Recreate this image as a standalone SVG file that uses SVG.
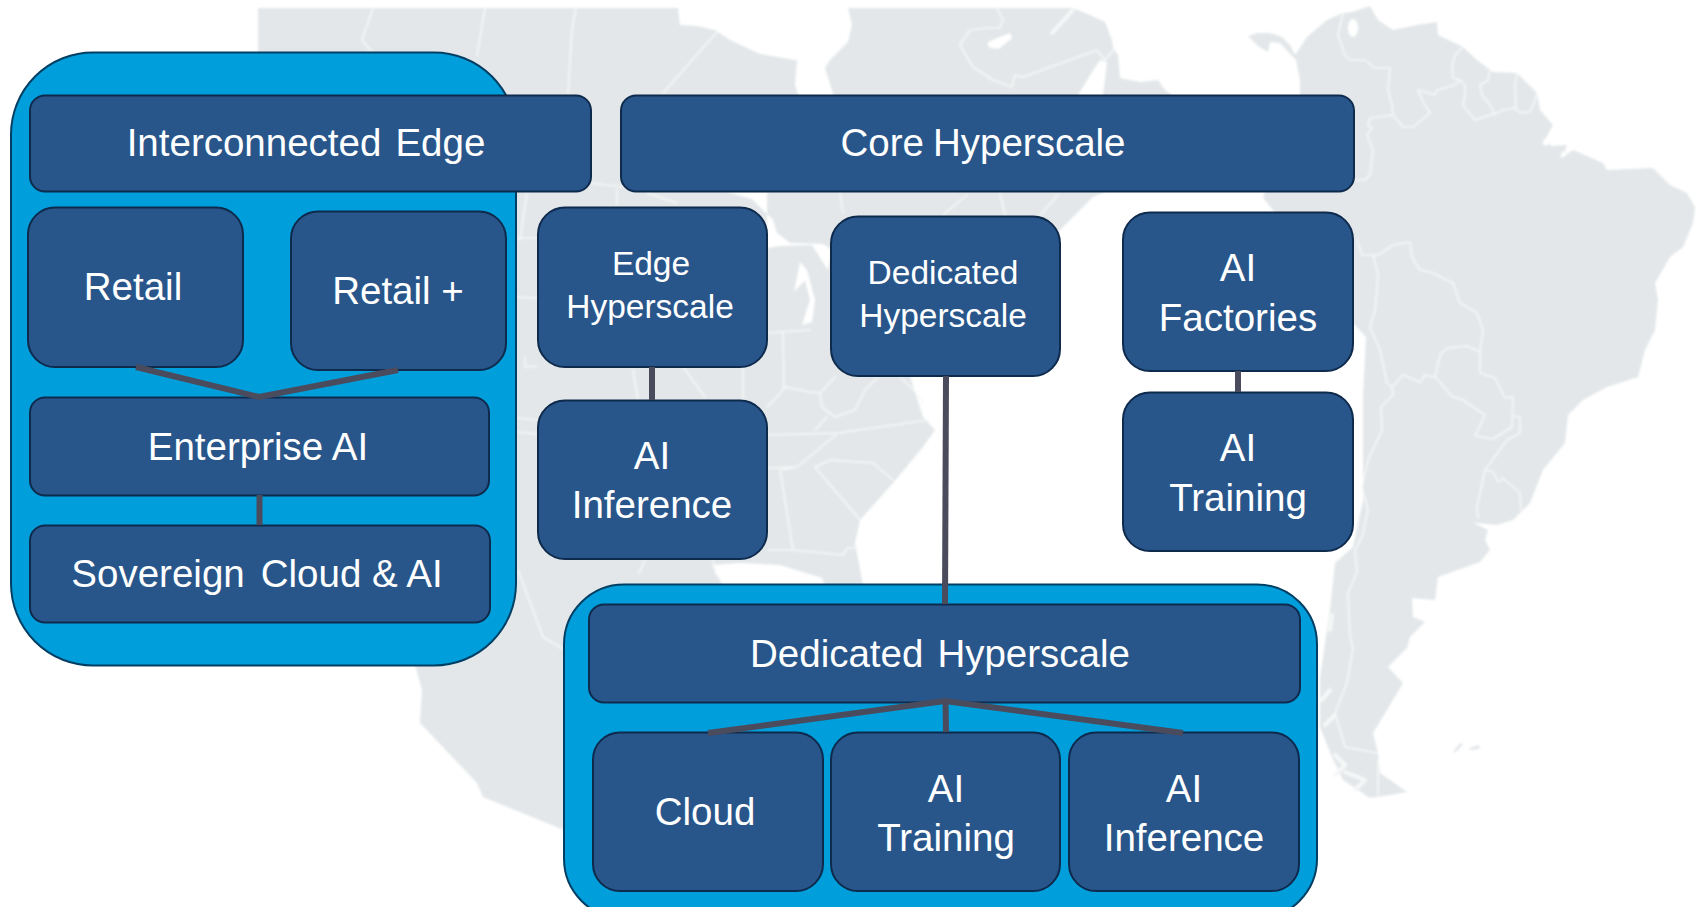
<svg xmlns="http://www.w3.org/2000/svg" width="1707" height="907" viewBox="0 0 1707 907">
<defs><filter id="soft" x="-2%" y="-2%" width="104%" height="104%"><feGaussianBlur stdDeviation="0.8"/></filter></defs>
<style>
.land{fill:#e3e7e9;stroke:none}
.sea{fill:#ffffff;stroke:none}
.border{fill:none;stroke:#f6f8f8;stroke-width:1.6;stroke-linejoin:round;stroke-linecap:round}
.panel{fill:#009edb;stroke:#003f63;stroke-width:2}
.box{fill:#28568b;stroke:#0e2a4c;stroke-width:2}
text{font-family:"Liberation Sans",Arial,sans-serif;font-size:38.5px;fill:#ffffff;text-anchor:middle}
text.s{font-size:33.5px}
.link{fill:none;stroke:#4a4b5c;stroke-width:6;stroke-linejoin:miter}
</style>
<rect width="1707" height="907" fill="#ffffff"/>
<g id="map" filter="url(#soft)">
<path class="land" d="M258 8H678L680 25L697 26L715 30L730 40L760 54L795 60L830 60L848 42L852 25L848 8H1073L1090 15L1105 22L1112 40L1113 48L1118 55L1120 78L1140 82L1158 80L1165 90L1172 95V130H1105L1103 95L1107 62L1100 60L1092 72L1078 95V150L1105 192L1093 197L1075 215L1060 230L1000 300L910 376L923 417L935 430L923 447L893 483L860 520L855 543L863 585V600H830L822 578L780 565L740 563L712 565L722 584L720 640L640 840L564 830L483 797L477 783L420 723L422 690L415 665L300 600L258 100Z"/>
<path class="land" d="M1248 36L1258 33L1270 33L1282 37L1290 45L1295 55L1307 37L1327 20L1343 13L1352 12L1370 6L1378 20L1393 30L1417 25L1437 22L1438 35L1463 47L1477 60L1493 72L1517 73L1537 93L1540 110L1553 125L1545 140L1552 146L1567 145L1563 157L1573 150L1603 163L1607 170L1653 168L1670 185L1687 193L1695 207L1693 223L1683 247L1670 257L1655 283L1658 300L1655 330L1645 350L1638 377L1607 387L1583 400L1568 415L1565 443L1543 470L1530 503L1513 520L1497 525L1477 523L1472 522L1488 530L1485 540L1490 550L1480 562L1438 577L1435 600L1412 598L1413 617L1425 622L1410 637L1407 648L1388 667L1403 683L1387 710L1373 733L1378 753L1380 773L1407 792L1390 795L1370 798L1343 780L1332 757L1320 727L1320 677L1330 610L1335 563L1353 547L1363 500L1363 397L1366 337L1353 323L1273 210L1263 198L1283 120L1300 95L1300 80L1296 60L1280 43L1270 42L1268 52L1258 46Z"/>
<path class="land" d="M1453 752L1460 743L1463 744L1456 752ZM1468 749L1478 745L1481 748L1472 750Z"/>
<path class="sea" d="M797 60L795 85L800 100H835L825 68L830 60ZM727 192L752 199L773 220L777 233L790 243L823 244L832 250L828 270L812 245L780 246L767 248V192ZM800 262L807 270L815 300L812 322L802 325L810 300L805 280L794 292Z"/>
<ellipse class="sea" cx="1353" cy="28" rx="5" ry="9"/>
<path class="sea" d="M1545 138C1540 145 1545 148 1550 143ZM1563 150L1560 158L1566 156Z"/>
<path class="sea" d="M1000 48C988 50 985 44 990 41L1010 33L1012 38Z"/>
<g class="border">
<path d="M373 8L362 40L372 52M485 8L477 55M576 6L572 30L568 93M717 32L663 93M527 193L520 240M590 183L623 187M617 190V205M647 193L677 203M840 193L843 213M516 238H537M517 297L537 298M517 418L537 420M517 432L537 434M525 357V367L537 366M683 367L705 397M633 370L638 400"/>
<path d="M783 333L784 387M768 333L810 330M743 367V400M767 407L777 397L785 387L810 392L820 393L835 377M820 393L822 407L835 417L855 410L865 390L878 377M815 430L827 417M768 435L838 433L928 420M838 433L797 467L768 468M797 467L780 470L793 550L843 555L847 548L857 548M815 467L830 460L873 463L893 480M815 467L860 520M768 550H793M900 377L912 388L923 403"/>
<path d="M967 195L943 215M1000 193L1005 215M1058 195L1040 215M518 570L543 637L565 650M639 573L645 560M713 560L716 575"/>
<path d="M997 8L1003 20L1000 28L987 28L970 30L960 45L973 67L993 80L1012 87L1015 75L1023 77L1097 50L1105 60L1115 48"/>
<path d="M1052 33L1073 10" stroke-width="4"/>
<path d="M1343 13L1338 35L1345 55L1350 60L1365 60L1375 68L1390 68L1388 90L1392 105L1393 115L1370 118L1368 125L1372 128L1367 135L1373 150L1370 175L1365 180L1353 180M1393 115L1403 127L1413 127L1430 113L1425 105L1420 95L1418 90L1435 95L1437 90L1455 85L1460 80"/>
<path d="M1463 47L1455 55L1452 65L1453 78L1460 80L1465 85L1465 95L1463 105L1475 120L1490 115L1497 113L1503 110L1515 108L1520 113L1530 112L1535 100L1537 93M1490 70L1488 80L1480 85L1482 95L1490 105L1495 115M1517 73L1515 85L1516 108"/>
<path d="M1357 240L1362 255L1378 255L1393 245L1410 242L1412 257L1420 270L1433 273L1453 283L1460 303L1477 313L1483 330L1480 352L1480 373L1495 378L1505 398L1513 397L1512 427L1493 439L1475 436L1485 415L1463 400L1453 397L1435 377L1440 355L1447 348L1467 346L1480 352"/>
<path d="M1373 255L1378 273L1377 290L1375 310L1370 327L1380 350L1387 383L1392 387L1403 375L1420 382L1425 375L1435 377M1392 387L1393 395L1381 407L1382 430L1368 460L1362 487L1368 510L1362 537L1355 550L1357 572L1348 593L1350 637L1353 648L1347 683L1335 713L1345 747L1377 753M1378 760V795"/>
<path d="M1513 416L1520 417L1520 433L1507 440L1485 470L1477 507L1478 518M1485 470L1493 472L1498 482L1503 478L1520 493L1521 510"/>
<path d="M1332 615L1330 630M1322 700L1330 690M1325 725L1335 715M1335 755L1345 765L1335 775M1345 772L1365 780L1355 790" stroke-width="4"/>
</g>
</g>
<g id="panel-edge"><rect class="panel" x="11" y="52.500" width="505" height="613" rx="82" ry="82"/></g>
<g id="panel-dedicated"><rect class="panel" x="564" y="584.500" width="753" height="334" rx="60" ry="60"/></g>
<g id="interconnected-edge"><rect class="box" x="30" y="95.500" width="561" height="96" rx="15"/><text x="306" y="156">Interconnected<tspan dx="14">Edge</tspan></text></g>
<g id="core-hyperscale"><rect class="box" x="621" y="95.500" width="733" height="96" rx="15"/><text x="983" y="156">Core<tspan dx="9">Hyperscale</tspan></text></g>
<g id="retail"><rect class="box" x="28" y="207.500" width="215" height="159.500" rx="27"/><text x="133" y="300">Retail</text></g>
<g id="retail-plus"><rect class="box" x="291" y="211.500" width="215" height="158.500" rx="27"/><text x="398" y="304">Retail +</text></g>
<g id="enterprise-ai"><rect class="box" x="30" y="397.500" width="459" height="98" rx="15"/><text x="258" y="460">Enterprise AI</text></g>
<g id="sovereign"><rect class="box" x="30" y="525.500" width="460" height="97" rx="15"/><text x="257" y="587">Sovereign<tspan dx="16">Cloud &amp; AI</tspan></text></g>
<g id="edge-hyperscale"><rect class="box" x="538" y="207.500" width="229" height="159.500" rx="27"/><text class="s" x="651" y="275">Edge</text><text class="s" x="650" y="318">Hyperscale</text></g>
<g id="ai-inference-1"><rect class="box" x="538" y="400.500" width="229" height="158.500" rx="27"/><text x="652" y="469">AI</text><text x="652" y="518">Inference</text></g>
<g id="dedicated-hyperscale-1"><rect class="box" x="831" y="216.500" width="229" height="159.500" rx="27"/><text class="s" x="943" y="284">Dedicated</text><text class="s" x="943" y="327">Hyperscale</text></g>
<g id="ai-factories"><rect class="box" x="1123" y="212.500" width="230" height="158.500" rx="27"/><text x="1238" y="281">AI</text><text x="1238" y="331">Factories</text></g>
<g id="ai-training-1"><rect class="box" x="1123" y="392.500" width="230" height="158.500" rx="27"/><text x="1238" y="461">AI</text><text x="1238" y="511">Training</text></g>
<g id="dedicated-hyperscale-2"><rect class="box" x="589" y="604.500" width="711" height="98" rx="15"/><text x="940" y="667">Dedicated<tspan dx="14">Hyperscale</tspan></text></g>
<g id="cloud"><rect class="box" x="593" y="732.500" width="230" height="158.500" rx="27"/><text x="705" y="825">Cloud</text></g>
<g id="ai-training-2"><rect class="box" x="831" y="732.500" width="229" height="158.500" rx="27"/><text x="946" y="802">AI</text><text x="946" y="851">Training</text></g>
<g id="ai-inference-2"><rect class="box" x="1069" y="732.500" width="230" height="158.500" rx="27"/><text x="1184" y="802">AI</text><text x="1184" y="851">Inference</text></g>
<g id="connectors">
<path class="link" d="M136 367L259 397L398 370"/>
<path class="link" d="M259.500 495V525"/>
<path class="link" d="M652 367V400"/>
<path class="link" d="M946 376L945 604"/>
<path class="link" d="M1238 371V392"/>
<path class="link" d="M708 733L945 701L1183 733"/>
<path class="link" d="M945.500 701L946 732"/>
</g>
</svg>
